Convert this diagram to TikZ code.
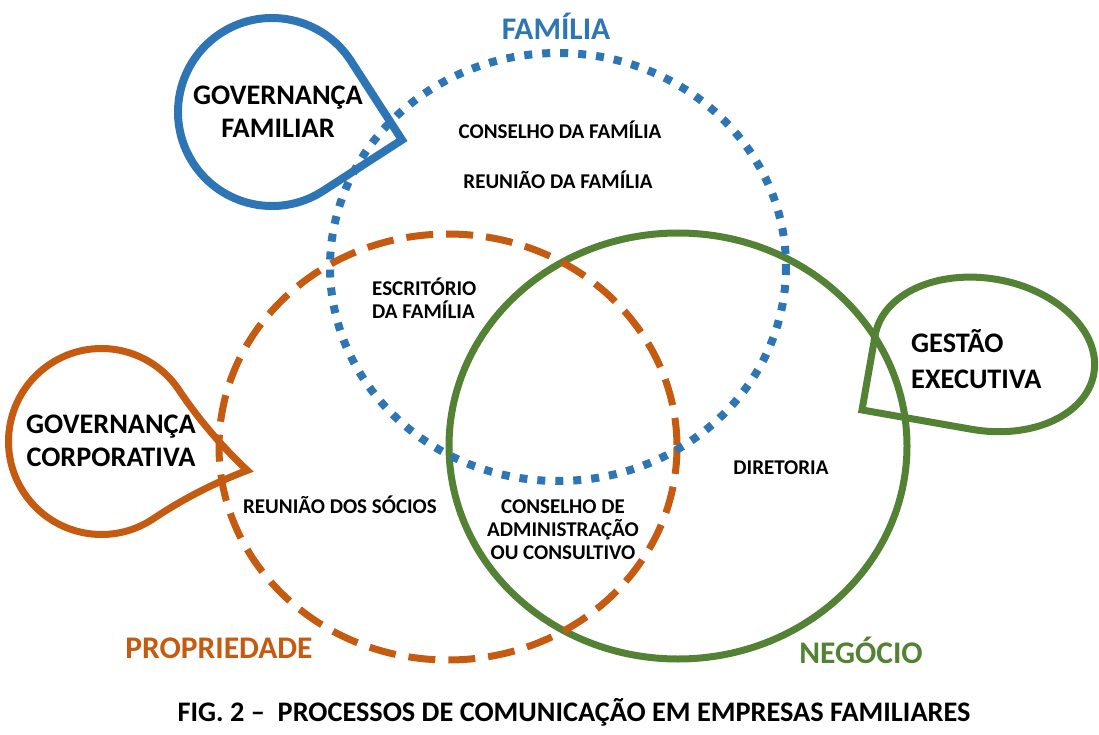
\documentclass[tikz,border=0pt]{standalone}
\usepackage{fontspec}
\setmainfont{Carlito}
\definecolor{azul}{HTML}{2E75B6}
\definecolor{laranja}{HTML}{C55A11}
\definecolor{verde}{HTML}{548235}

% gota: estilo, centro x, centro y, raio x, raio y, ponta, giro
\newcommand{\gota}[7]{%
  \pgfmathsetmacro\gpa{#6}%
  \pgfmathsetmacro\gpb{\gpa/3}%
  \pgfmathsetmacro\gpc{2*\gpa/3}%
  \pgfmathsetmacro\gpd{(-\gpa-2)/3}%
  \pgfmathsetmacro\gpe{(\gpa+2)/3}%
  \begin{scope}[shift={(#2,#3)},rotate=#7,xscale=#4,yscale=#5]
    \draw[#1] (-1,0) arc[start angle=180, end angle=270, radius=1]
      .. controls (\gpb,-1) and (\gpc,\gpd) .. (\gpa,-\gpa)
      .. controls (\gpe,-\gpc) and (1,-\gpb) .. (1,0)
      arc[start angle=0, end angle=180, radius=1] -- cycle;
  \end{scope}}

\begin{document}
\begin{tikzpicture}[x=1pt,y=-1pt,
    rotulo/.style={font=\fontsize{21}{23}\selectfont\bfseries, align=center, inner sep=0pt},
    grande/.style={font=\fontsize{28.3}{33}\selectfont\bfseries, align=center, inner sep=0pt},
    area/.style={font=\fontsize{31.5}{34}\selectfont\bfseries, inner sep=0pt}]
  \useasboundingbox (0,0) rectangle (1099,735);

  \draw[verde, line width=7pt] (678,446) ellipse [x radius=229, y radius=213];
  \gota{verde, line width=7pt}{984.5}{354.4}{111}{76}{1}{170}
  \gota{laranja, line width=7pt}{101.5}{441.5}{93}{93}{1.13}{-56.2}
  \gota{azul, line width=8pt}{272}{112}{94}{94}{1}{-57.1}
  \draw[laranja, line width=7pt, dash pattern=on 27pt off 13pt] (448,447) ellipse [x radius=229, y radius=213];
  \draw[azul, line width=8pt, dash pattern=on 8pt off 10pt] (558,267) ellipse [x radius=228, y radius=214];

  \node[area, text=azul] (familia) at (556,26) {FAMÍLIA};
  \node[area, text=laranja] (propriedade) at (219,648) {PROPRIEDADE};
  \node[area, text=verde] (negocio) at (861,650) {NEGÓCIO};

  \node[grande] (govfamiliar) at (278,112) {GOVERNANÇA\\FAMILIAR};
  \node[grande] (govcorporativa) at (111,441) {GOVERNANÇA\\CORPORATIVA};
  \node[grande, align=left, anchor=west, font=\fontsize{28.3}{36}\selectfont\bfseries] (gestao) at (911,359) {GESTÃO\\EXECUTIVA};

  \node[rotulo] (conselhofam) at (560,130) {CONSELHO DA FAMÍLIA};
  \node[rotulo] (reuniaofam) at (558,180) {REUNIÃO DA FAMÍLIA};
  \node[rotulo, align=left, anchor=west] (escritorio) at (372,298) {ESCRITÓRIO\\DA FAMÍLIA};
  \node[rotulo] (reuniaosocios) at (340,505) {REUNIÃO DOS SÓCIOS};
  \node[rotulo] (conselhoadm) at (563,530) {CONSELHO DE\\ADMINISTRAÇÃO\\OU CONSULTIVO};
  \node[rotulo] (diretoria) at (781,468) {DIRETORIA};

  \node[font=\fontsize{28.3}{34}\selectfont\bfseries, inner sep=0pt] (legenda) at (574,712) {FIG. 2 –~~PROCESSOS DE COMUNICAÇÃO EM EMPRESAS FAMILIARES};
\end{tikzpicture}
\end{document}
